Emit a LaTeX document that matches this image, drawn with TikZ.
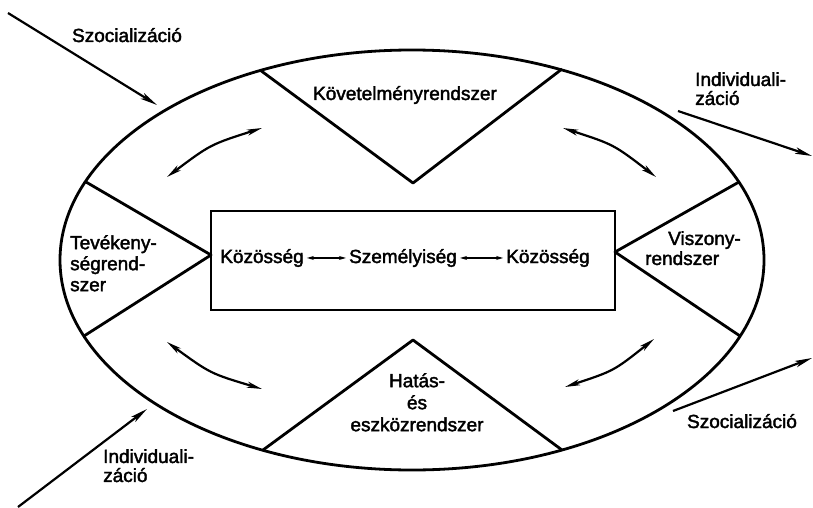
\documentclass[tikz,border=0pt]{standalone}
\usepackage{fontspec}
\setmainfont{Liberation Sans}[BoldFont=Liberation Sans, BoldFeatures={FakeBold=2}]
\usetikzlibrary{arrows.meta}
\begin{document}
\begin{tikzpicture}[x=1pt,y=-1pt,
  shapeline/.style={line width=2.8pt, line join=round},
  outarrow/.style={line width=2.2pt, -{Stealth[length=17pt,width=6.5pt,inset=4pt]}},
  inarrow/.style={line width=2.2pt, {Stealth[length=15pt,width=6pt,inset=4pt]}-{Stealth[length=15pt,width=6pt,inset=4pt]}},
  smallarrow/.style={line width=1.5pt, {Stealth[length=7pt,width=4pt]}-{Stealth[length=7pt,width=4pt]}},
  lbl/.style={font=\fontsize{19}{19}\selectfont\bfseries, inner sep=0pt},
]
\useasboundingbox (0,0) rectangle (813,508);
\fill[white] (0,0) rectangle (813,508);

% ellipse
\draw[shapeline] (412,260) ellipse [x radius=352pt, y radius=210pt];

% central box
\node[draw, line width=2.4pt, minimum width=404pt, minimum height=99pt, inner sep=0pt] (box) at (413,260.5) {};

% triangle corners
\coordinate (t1) at (260,70);  \coordinate (t2) at (562,69);  \coordinate (tA) at (413,183);
\coordinate (l1) at (86,182);  \coordinate (l2) at (84,336);  \coordinate (lA) at (211,255);
\coordinate (r1) at (739,182); \coordinate (r2) at (740,336); \coordinate (rA) at (615,252);
\coordinate (b1) at (263,450); \coordinate (b2) at (562,450); \coordinate (bA) at (413,340);

\draw[shapeline] (t1) -- (tA) -- (t2);
\draw[shapeline] (l1) -- (lA) -- (l2);
\draw[shapeline] (r1) -- (rA) -- (r2);
\draw[shapeline] (b1) -- (bA) -- (b2);

% labels
\node[lbl, anchor=base] (szoc1) at (127,42) {Szocializáció};
\node[lbl, anchor=base] (kov) at (405,100) {Követelményrendszer};
\node[lbl, anchor=north west, align=left] (ind1) at (695,72) {Individuali-\\záció};
\node[lbl, anchor=north west, align=left, font=\fontsize{19}{21}\selectfont\bfseries] (tev) at (70,235) {Tevékeny-\\ségrend-\\szer};
\node[lbl, anchor=north west, align=left, font=\fontsize{19}{20}\selectfont\bfseries] (visz) at (645,231) {\hspace*{23pt}Viszony-\\rendszer};
\node[lbl, anchor=north, align=center, font=\fontsize{19}{22}\selectfont\bfseries] (hatas) at (417,373) {Hatás-\\és\\eszközrendszer};
\node[lbl, anchor=north west, align=left] (ind2) at (103,449) {Individuali-\\záció};
\node[lbl, anchor=base] (szoc2) at (742,428) {Szocializáció};

% centre texts
\node[lbl, anchor=base] (k1) at (262,263) {Közösség};
\node[lbl, anchor=base] (sz) at (403,263) {Személyiség};
\node[lbl, anchor=base] (k2) at (548,263) {Közösség};
\draw[smallarrow] ([xshift=3pt]k1.east) -- ([xshift=-3pt]sz.west);
\draw[smallarrow] ([xshift=3pt]sz.east) -- ([xshift=-3pt]k2.west);

% outer arrows
\coordinate (o1a) at (8,13);    \coordinate (o1b) at (157,105);
\coordinate (o2a) at (678,111); \coordinate (o2b) at (812,156);
\coordinate (o3a) at (18,507);  \coordinate (o3b) at (147,409);
\coordinate (o4a) at (673,411); \coordinate (o4b) at (812,358);
\draw[outarrow] (o1a) -- (o1b);
\draw[outarrow] (o2a) -- (o2b);
\draw[outarrow] (o3a) -- (o3b);
\draw[outarrow] (o4a) -- (o4b);

% inner curved double arrows
\coordinate (i1a) at (167,177); \coordinate (i1b) at (262,128);
\coordinate (i2a) at (563,128); \coordinate (i2b) at (656,177);
\coordinate (i3a) at (167,342); \coordinate (i3b) at (262,389);
\coordinate (i4a) at (565,387); \coordinate (i4b) at (654,339);
\draw[inarrow] (i1a) .. controls (210.4,144.5) .. (i1b);
\draw[inarrow] (i2a) .. controls (613.7,144.5) .. (i2b);
\draw[inarrow] (i3a) .. controls (210.5,373.6) .. (i3b);
\draw[inarrow] (i4a) .. controls (613.8,370.9) .. (i4b);
\end{tikzpicture}
\end{document}
